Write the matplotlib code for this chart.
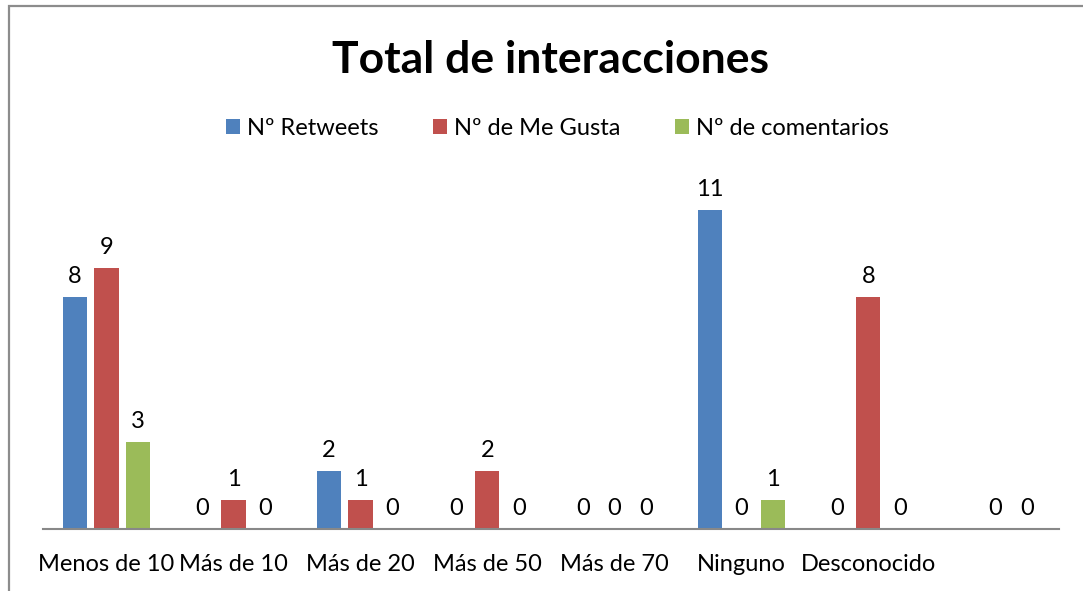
import numpy as np
import matplotlib.pyplot as plt
from matplotlib.patches import Rectangle

# data
categories = ['Menos de 10', 'Más de 10', 'Más de 20', 'Más de 50', 'Más de 70',
              'Ninguno', 'Desconocido', '']
retweets = [8, 0, 2, 0, 0, 11, 0, np.nan]
me_gusta = [9, 1, 1, 2, 0, 0, 8, 0]
comentarios = [3, 0, 0, 0, 0, 1, 0, 0]
series_names = ['Nº Retweets', 'Nº de Me Gusta', 'Nº de comentarios']
colors = ['#4F81BD', '#C0504D', '#9BBB59']

plt.rcParams['font.family'] = ['Lato', 'DejaVu Sans']

fig = plt.figure(figsize=(10.83, 5.91), dpi=100)
ax = fig.add_axes([0.0397, 0.1049, 0.938, 0.589])

x = np.arange(len(categories))
width = 0.19
pitch = 0.25

for i, (vals, name, col) in enumerate(zip([retweets, me_gusta, comentarios], series_names, colors)):
    pos = x + (i - 1) * pitch
    ax.bar(pos, vals, width=width, color=col, label=name)
    for p, v in zip(pos, vals):
        if np.isnan(v):
            continue
        ax.annotate(f'{int(v)}', (p, v), xytext=(0, 7), textcoords='offset points',
                    ha='center', va='bottom', fontsize=17)

ax.set_xlim(-0.5, len(categories) - 0.5)
ax.set_ylim(0, 12)
ax.set_xticks(x)
ax.set_xticklabels(categories, fontsize=17)
ax.tick_params(axis='x', length=0, pad=18)
ax.set_yticks([])
for s in ['top', 'right', 'left']:
    ax.spines[s].set_visible(False)
ax.spines['bottom'].set_color('#888888')
ax.spines['bottom'].set_linewidth(1.5)

fig.text(0.508, 0.898, 'Total de interacciones', ha='center', va='center',
         fontsize=32, fontweight='bold')
fig.legend(loc='center', bbox_to_anchor=(0.515, 0.783), ncol=3, frameon=False,
           fontsize=17, handlelength=0.6, handleheight=0.6, handletextpad=0.3,
           columnspacing=2.3)

# outer border of the chart (runs past the right and bottom edges)
fig.patches.append(Rectangle((8.5 / 1083, -0.05), 1.1, 1 - 5.5 / 591 + 0.05,
                             transform=fig.transFigure, fill=False,
                             edgecolor='#8c8c8c', linewidth=1.6))

fig.savefig('out.png', dpi=100)
